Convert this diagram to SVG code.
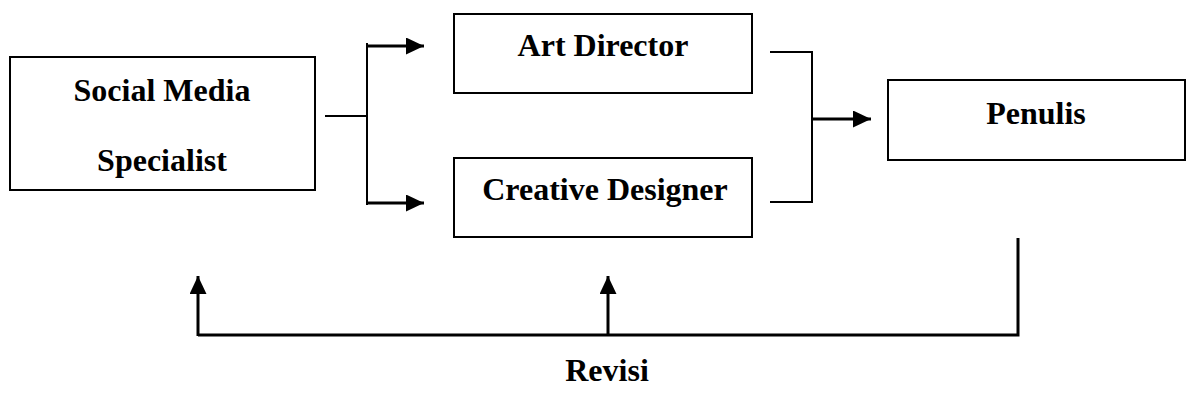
<svg xmlns="http://www.w3.org/2000/svg" width="1191" height="401" viewBox="0 0 1191 401">
  <style>
    .box { fill: #ffffff; stroke: #000000; stroke-width: 2; }
    .lbl { font-family: "Liberation Serif", "Times New Roman", serif; font-weight: bold; font-size: 32px; fill: #000000; text-anchor: middle; }
    .ln { fill: none; stroke: #000000; stroke-width: 2; }
    .arr { fill: none; stroke: #000000; stroke-width: 3; }
  </style>
  <defs>
    <marker id="ah" viewBox="0 0 18 17" refX="18" refY="8.5" markerWidth="18" markerHeight="17" markerUnits="userSpaceOnUse" orient="auto">
      <path d="M0,0 L18,8.5 L0,17 z" fill="#000000"/>
    </marker>
  </defs>
  <rect width="1191" height="401" fill="#ffffff"/>

  <g id="social-media-specialist">
    <rect class="box" x="10" y="57" width="305" height="133"/>
    <text class="lbl" x="162" y="101">Social Media</text>
    <text class="lbl" x="162" y="171">Specialist</text>
  </g>
  <g id="art-director">
    <rect class="box" x="454" y="14" width="298" height="79"/>
    <text class="lbl" x="603" y="56">Art Director</text>
  </g>
  <g id="creative-designer">
    <rect class="box" x="454" y="158" width="298" height="79"/>
    <text class="lbl" x="605" y="200">Creative Designer</text>
  </g>
  <g id="penulis">
    <rect class="box" x="888" y="80" width="297" height="80"/>
    <text class="lbl" x="1036" y="124">Penulis</text>
  </g>
  <g id="revisi-label">
    <text class="lbl" x="607" y="381">Revisi</text>
  </g>

  <g id="connectors">
    <line class="ln" x1="325" y1="116" x2="366" y2="116"/>
    <line class="ln" x1="367" y1="43" x2="367" y2="205"/>
    <line class="arr" x1="367" y1="46" x2="424" y2="46" marker-end="url(#ah)"/>
    <line class="arr" x1="367" y1="203" x2="424" y2="203" marker-end="url(#ah)"/>
    <line class="ln" x1="770" y1="52" x2="812" y2="52"/>
    <line class="ln" x1="812" y1="51" x2="812" y2="203"/>
    <line class="ln" x1="770" y1="202" x2="812" y2="202"/>
    <line class="arr" x1="813" y1="119" x2="871" y2="119" marker-end="url(#ah)"/>
    <polyline class="arr" points="1018,238 1018,335 198,335"/>
    <line class="arr" x1="198" y1="336" x2="198" y2="276" marker-end="url(#ah)"/>
    <line class="arr" x1="608" y1="335" x2="608" y2="276" marker-end="url(#ah)"/>
  </g>
</svg>
